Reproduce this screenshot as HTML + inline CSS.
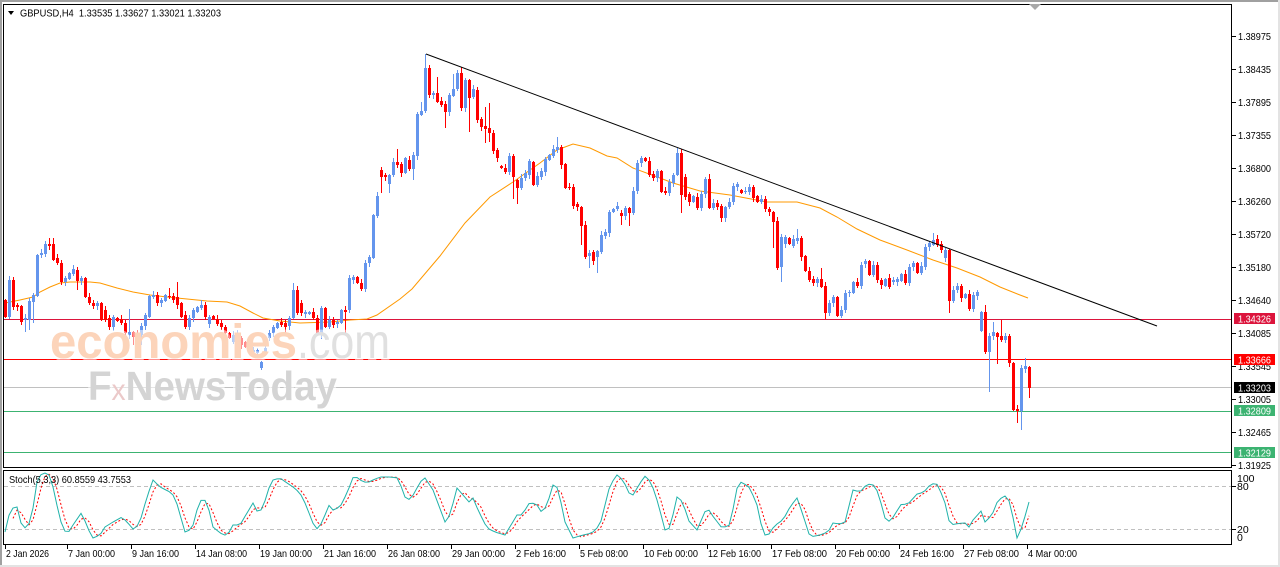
<!DOCTYPE html>
<html><head><meta charset="utf-8"><title>GBPUSD H4</title>
<style>
html,body{margin:0;padding:0;background:#fff;width:1280px;height:567px;overflow:hidden;}
svg{display:block;font-family:"Liberation Sans",Arial,sans-serif;}
</style></head><body>
<svg id="s" width="1280" height="567" viewBox="0 0 1280 567" xmlns="http://www.w3.org/2000/svg">
<rect x="0" y="0" width="1280" height="567" fill="#fff"/>
<!-- outer frame -->
<rect x="0" y="0" width="1280" height="2" fill="#A0A0A0"/>
<rect x="0" y="0" width="2" height="567" fill="#A0A0A0"/>
<rect x="1278" y="0" width="2" height="567" fill="#E3E3E3"/>
<rect x="0" y="565" width="1280" height="2" fill="#E3E3E3"/>

<!-- horizontal levels -->
<g shape-rendering="crispEdges">
<line x1="4" y1="319.5" x2="1232" y2="319.5" stroke="#DC143C" stroke-width="1"/>
<line x1="4" y1="359.5" x2="1232" y2="359.5" stroke="#FF0000" stroke-width="1"/>
<line x1="4" y1="387.5" x2="1232" y2="387.5" stroke="#C0C0C0" stroke-width="1"/>
<line x1="4" y1="411.5" x2="1232" y2="411.5" stroke="#3CB371" stroke-width="1"/>
<line x1="4" y1="452.5" x2="1232" y2="452.5" stroke="#3CB371" stroke-width="1"/>
</g>

<!-- moving average -->
<polyline fill="none" stroke="#FF9900" stroke-width="1" points="5,303 20,300 33,297 40,292 50,287 60,283 70,282 90,282 100,283 117,288 133,292 150,295 167,297 187,299 207,301 227,302 240,306 253,313 263,318 280,321 300,323 330,322 350,320 367,319 377,315 400,299 412,289 440,256 465,223 490,197 513,182 540,163 557,150 573,144 590,148 607,156 617,158 633,168 660,178 673,183 700,191 730,195 767,202 797,202 820,208 837,217 857,229 880,240 907,250 933,260 957,268 980,277 1000,287 1020,295 1028,298"/>

<g id="candles" shape-rendering="crispEdges"></g>

<!-- trend line -->
<line x1="426" y1="54" x2="1157" y2="326" stroke="#000" stroke-width="1"/>

<!-- watermark -->
<g>
<text x="50" y="358" font-size="48" font-weight="bold" fill="#FCD4BA" textLength="247" lengthAdjust="spacingAndGlyphs" stroke="#fff" stroke-opacity="0.55" stroke-width="5" paint-order="stroke">economies</text>
<text x="297" y="358" font-size="48" fill="#E0E0E0" textLength="93" lengthAdjust="spacingAndGlyphs" stroke="#fff" stroke-opacity="0.55" stroke-width="5" paint-order="stroke">.com</text>
<text x="88" y="400" font-size="41" font-weight="bold" fill="#D4D4D4" textLength="249" lengthAdjust="spacingAndGlyphs" stroke="#fff" stroke-opacity="0.55" stroke-width="5" paint-order="stroke">F<tspan fill="#EBC9C9" font-weight="normal" font-size="30">x</tspan>NewsToday</text>
</g>

<!-- chart borders -->
<g shape-rendering="crispEdges" fill="none" stroke="#000" stroke-width="1">
<rect x="3.5" y="4.5" width="1228" height="463"/>
<rect x="3.5" y="470.5" width="1228" height="74"/>
</g>

<!-- header -->
<polygon points="8,11 14,11 11,15" fill="#000"/>
<text x="20" y="16.5" font-size="10.5" fill="#000" textLength="201" lengthAdjust="spacingAndGlyphs">GBPUSD,H4&#160;&#160;1.33535 1.33627 1.33021 1.33203</text>
<polygon points="1029,4 1041,4 1035,10" fill="#A8A8A8"/>

<!-- stoch panel -->
<g shape-rendering="crispEdges">
<line x1="4" y1="486.5" x2="1231" y2="486.5" stroke="#C0C0C0" stroke-dasharray="4,3"/>
<line x1="4" y1="529.5" x2="1231" y2="529.5" stroke="#C0C0C0" stroke-dasharray="4,3"/>
</g>
<polyline id="stD" fill="none" stroke="#FF0000" stroke-width="1" stroke-dasharray="2,2"/>
<polyline id="stK" fill="none" stroke="#20B2AA" stroke-width="1"/>
<text x="9" y="483" font-size="10.5" fill="#000" textLength="122" lengthAdjust="spacingAndGlyphs">Stoch(5,3,3) 60.8559 43.7553</text>

<!-- stoch axis -->
<g font-size="10.5" fill="#000">
<text x="1237" y="482">100</text>
<text x="1237" y="490">80</text>
<text x="1237" y="533">20</text>
<text x="1237" y="541">0</text>
</g>
<g stroke="#000" shape-rendering="crispEdges">
<line x1="1232" y1="486.5" x2="1236" y2="486.5"/>
<line x1="1232" y1="529.5" x2="1236" y2="529.5"/>
</g>

<g id="paxis"></g>
<g id="taxis"></g>

<!-- colored price boxes -->
<g font-size="10.5" fill="#fff">
<rect x="1234" y="313" width="41" height="11" fill="#DC143C"/>
<text x="1238" y="322.5" textLength="33" lengthAdjust="spacingAndGlyphs">1.34326</text>
<rect x="1234" y="354" width="41" height="11" fill="#FF0000"/>
<text x="1238" y="363.5" textLength="33" lengthAdjust="spacingAndGlyphs">1.33666</text>
<rect x="1234" y="382" width="41" height="11" fill="#000000"/>
<text x="1238" y="391.5" textLength="33" lengthAdjust="spacingAndGlyphs">1.33203</text>
<rect x="1234" y="405" width="41" height="11" fill="#3CB371"/>
<text x="1238" y="414.5" textLength="33" lengthAdjust="spacingAndGlyphs">1.32809</text>
<rect x="1234" y="447" width="41" height="11" fill="#3CB371"/>
<text x="1238" y="456.5" textLength="33" lengthAdjust="spacingAndGlyphs">1.32129</text>
</g>
</svg>
<script>
(function(){
var NS="http://www.w3.org/2000/svg";
function el(n,a,p){var e=document.createElementNS(NS,n);for(var k in a)e.setAttribute(k,a[k]);if(p)p.appendChild(e);return e;}
var data="R300,317|B280,317|R280,307|R305,307|R306,322,,325|B318,320,,332|B301,320,,330|B295,302,,323|B255,296|B253,255,,258|B244,254|R244,246,238|R244,260,238|R258,263|R263,282|B278,282|B273,279|B269,274|R270,281,,290|B278,281|R278,297|R297,303|R303,306|B303,306|R303,320|R310,320|R318,327|B317,327|R318,321|R319,323|R323,333|B332,335,309|R332,337,,345|R334,336|B326,335,,345|B315,326|B296,317|B295,297|R295,303|B300,303|B295,301|R296,297,288|R296,300|R297,305,282|R303,317|R315,327|B318,327|B310,318|B307,312|B305,308,300|R305,317|B317,324|R316,319|R319,324|R323,327|R327,333|R333,338|B335,342|B333,340|R338,345|R342,347|R345,350|B350,352|B350,353|B362,368,,370|B348,352|B333,338|B327,333|B323,328|R322,325|R323,327,,333|B318,326|B290,318,283|R290,313|R303,313|B312,314|B312,314|R312,318|R318,333|B308,335|R308,327|B320,327|R320,325|B322,324|B310,323|R310,312,,333|B278,310|B277,280|R277,283|R283,289|B263,289|B257,263|B215,258|B196,216|R170,177,,193|R175,177|B175,184,,193|B162,175|R162,165,149|R164,173|B158,173|R160,169|B155,169,,180|B114,156|B111,115,102|B68,111,54|R68,95|B93,95|R93,102,77|R101,105|R104,112,,128|B95,112|B89,96,74|B73,89,70|R73,108,67|B80,108|R80,98,,132|B89,97|R90,120|R119,127|R126,129,107,143|R128,133,103,142|R133,151|R150,158|R166,168|R168,172|B156,172|R156,177,,199|R180,188,,204|B178,188|B173,178|B161,175|R162,185|B176,185|B171,177|B159,172|B155,160|B149,156|B147,150,137|R147,165|R164,188|R187,188|R187,206|R204,207|R207,226,,245|R225,257|B253,256,,268|R252,261|B251,257,,273|B235,252|B232,236|B212,233|B209,212|B206,209|R213,216,,225|B208,216|R208,213,,226|B191,213|B163,191|B158,163|R158,161|R161,175|R174,178|B171,178|R171,192|R191,193|B182,193|B175,183|B153,175,148|R153,195,,213|R177,197|R194,202|B196,202|R197,208|B194,208|B179,194|R179,208,174|B203,208|R203,207|R206,218|B207,218,,222|B202,207|B186,202|B184,187|R190,193|B191,192|B187,192|R187,198|R196,202|B199,202|R199,209|R209,212|R212,222,,248|R221,268|B237,267,,282|B237,244|R238,244|B239,246|B238,241,229|R238,257|R256,271|R271,280|R279,283|B279,283|R279,287,268|R286,313,,319|B303,313|B297,303|R297,316|B310,316|B293,310|B292,293|B282,293|R282,286|B265,286|B261,264|R261,275|B265,275|R265,280|R280,285|B279,286|R278,287|B280,282|B279,282|B274,281|R274,283|B267,283|B263,267|R263,273|B266,273|B247,267|B243,247|B240,245,233|R239,245|R244,250|B250,258|R250,301,,313|B290,301|B286,290|R286,298|B294,298|R294,309|B295,309|B292,296|B312,331|R312,352,305|B336,352,,392|B332,336,322|R333,337,,364|R336,340,320|B336,340|R336,363|R363,410|R409,411,,423|B368,411,,430|B366,369,358|R367,388,,398";
var g=document.getElementById("candles");
var items=data.split("|");
for(var i=0;i<items.length;i++){
  var s=items[i];var c=s[0]==="R"?"#FF0000":"#6495ED";
  var p=s.substr(1).split(",");
  var t=+p[0],b=+p[1];
  var wt=p[2]?+p[2]:t-(1+(i*3)%4);
  var wb=p[3]?+p[3]:b+(1+(i*5)%4);
  var x=5+4*i;
  el("rect",{x:x,y:wt,width:1,height:Math.max(1,wb-wt),fill:c},g);
  el("rect",{x:x-1,y:t,width:3,height:Math.max(1,b-t),fill:c},g);
}
// price axis
var pa=document.getElementById("paxis");
var pl=[["1.38975",36],["1.38435",69],["1.37895",102],["1.37355",135],["1.36800",168],["1.36260",201],["1.35720",234],["1.35180",267],["1.34640",300],["1.34085",333],["1.33545",366],["1.33005",399],["1.32465",432],["1.31925",465]];
pl.forEach(function(q){
  el("rect",{x:1232,y:q[1],width:4,height:1,fill:"#000"},pa);
  var t=el("text",{x:1238,y:q[1]+4,"font-size":"10.5",fill:"#000",textLength:"33",lengthAdjust:"spacingAndGlyphs"},pa);
  t.textContent=q[0];
});
// time axis
var ta=document.getElementById("taxis");
var tl=[["2 Jan 2026",5,43],["7 Jan 00:00",67,47],["9 Jan 16:00",131,47],["14 Jan 08:00",195,51],["19 Jan 00:00",259,52],["21 Jan 16:00",323,52],["26 Jan 08:00",387,52],["29 Jan 00:00",451,53],["2 Feb 16:00",515,50],["5 Feb 08:00",579,48],["10 Feb 00:00",643,54],["12 Feb 16:00",707,53],["17 Feb 08:00",771,55],["20 Feb 00:00",835,54],["24 Feb 16:00",899,54],["27 Feb 08:00",963,55],["4 Mar 00:00",1027,49]];
tl.forEach(function(q){
  el("rect",{x:q[1],y:545,width:1,height:4,fill:"#000"},ta);
  var t=el("text",{x:q[1]+1,y:557,"font-size":"10.5",fill:"#000",textLength:String(q[2]),lengthAdjust:"spacingAndGlyphs"},ta);
  t.textContent=q[0];
});
// stochastic
var kp=[[5,532],[8,517],[13,508],[17,507],[19,515],[22,527],[26,528],[30,522],[33,508],[37,482],[40,475],[45,473],[49,475],[53,487],[58,510],[63,530],[68,533],[73,525],[82,512],[87,527],[93,538],[100,535],[105,527],[113,522],[122,517],[127,522],[133,529],[139,525],[147,497],[153,480],[160,487],[170,492],[175,497],[185,532],[192,529],[197,510],[202,498],[207,502],[213,527],[220,533],[227,536],[233,525],[240,525],[247,513],[253,503],[258,513],[263,508],[268,490],[273,480],[280,478],[287,483],[293,487],[300,493],[307,507],[312,522],[318,530],[322,522],[325,515],[330,503],[333,510],[340,507],[347,493],[354,475],[360,480],[367,483],[373,480],[380,477],[390,477],[398,478],[405,497],[410,500],[415,492],[420,482],[425,478],[433,490],[445,522],[450,515],[457,488],[463,495],[470,503],[473,498],[478,510],[487,528],[495,532],[505,535],[517,515],[522,515],[530,502],[537,505],[542,513],[547,505],[553,485],[558,488],[565,522],[573,538],[583,535],[592,533],[600,525],[610,485],[617,475],[623,480],[630,495],[633,495],[642,480],[646,475],[652,485],[658,503],[665,530],[670,528],[677,497],[683,502],[688,520],[697,530],[707,507],[712,515],[722,528],[730,525],[738,483],[742,482],[750,488],[757,505],[763,533],[767,537],[773,528],[778,523],[783,520],[790,507],[797,498],[802,512],[810,537],[820,535],[828,532],[833,523],[840,524],[845,522],[853,490],[860,492],[867,484],[873,485],[878,492],[885,518],[890,522],[902,503],[907,505],[918,493],[923,493],[930,485],[935,483],[938,485],[945,503],[950,525],[962,523],[967,523],[969,527],[973,520],[982,510],[985,522],[992,515],[998,500],[1005,496],[1010,502],[1017,538],[1022,527],[1029,502]];
function kAt(x){
  if(x<=kp[0][0])return kp[0][1];
  for(var j=1;j<kp.length;j++){if(x<=kp[j][0]){var a=kp[j-1],b=kp[j];return a[1]+(b[1]-a[1])*(x-a[0])/(b[0]-a[0]);}}
  return kp[kp.length-1][1];
}
var K=[],kpts=[],dpts=[];
for(var i=0;i<257;i++){var x=5+4*i;K.push(kAt(x));kpts.push(x+","+K[i].toFixed(1));}
for(var i=2;i<257;i++){var x=5+4*i;var d=(K[i]+K[i-1]+K[i-2])/3;dpts.push(x+","+d.toFixed(1));}
document.getElementById("stK").setAttribute("points",kpts.join(" "));
document.getElementById("stD").setAttribute("points",dpts.join(" "));
})();
</script>
</body></html>
